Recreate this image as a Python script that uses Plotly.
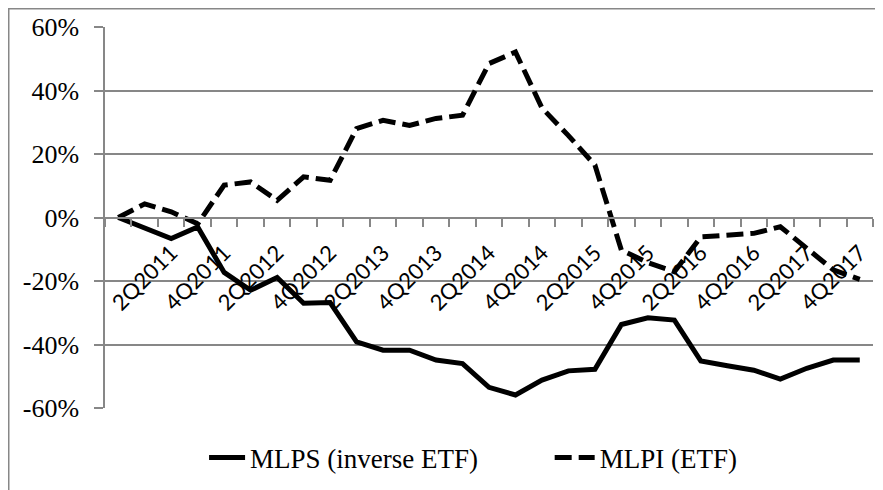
import plotly.graph_objects as go

quarters = ["4Q2010", "1Q2011", "2Q2011", "3Q2011", "4Q2011", "1Q2012", "2Q2012", "3Q2012",
            "4Q2012", "1Q2013", "2Q2013", "3Q2013", "4Q2013", "1Q2014", "2Q2014", "3Q2014",
            "4Q2014", "1Q2015", "2Q2015", "3Q2015", "4Q2015", "1Q2016", "2Q2016", "3Q2016",
            "4Q2016", "1Q2017", "2Q2017", "3Q2017", "4Q2017"]
tick_labels = ["2Q2011", "4Q2011", "2Q2012", "4Q2012", "2Q2013", "4Q2013", "2Q2014",
               "4Q2014", "2Q2015", "4Q2015", "2Q2016", "4Q2016", "2Q2017", "4Q2017"]
mlps = [0, -3.4, -6.6, -3.0, -17.3, -22.9, -18.9, -27.0, -26.8, -39.2, -41.8, -41.8, -44.9,
        -46.0, -53.5, -55.9, -51.2, -48.3, -47.8, -33.7, -31.6, -32.3, -45.2, -46.7, -48.1,
        -50.9, -47.5, -44.9, -44.9]
mlpi = [0, 4.3, 1.8, -2.0, 10.2, 11.2, 5.4, 12.8, 11.7, 28.0, 30.6, 29.0, 31.2, 32.2, 48.5,
        52.1, 34.5, 25.8, 16.5, -10.3, -14.2, -17.1, -6.1, -5.6, -5.0, -2.9, -9.5, -16.5, -19.5]
y_ticks = [-60, -40, -20, 0, 20, 40, 60]

GRID = "#878787"
SERIF = "Liberation Serif"
LEGEND_FONT = dict(family=SERIF, size=27, color="black")

# page body has an 8px margin, so the figure is sized to fill the rest of the window
W, H = 875, 482
ML, MR, MT, MB = 97, 10, 19, 82
PW, PH = W - ML - MR, H - MT - MB

fig = go.Figure()
fig.add_trace(go.Scatter(x=quarters, y=mlps, name="MLPS (inverse ETF)", mode="lines",
                         line=dict(color="black", width=5), legend="legend"))
fig.add_trace(go.Scatter(x=quarters, y=mlpi, name="MLPI (ETF)", mode="lines",
                         line=dict(color="black", width=5, dash="17px,7px"), legend="legend2"))
# invisible helper trace for the boundary tick axis
fig.add_trace(go.Scatter(x=quarters, y=mlps, xaxis="x2", mode="lines", showlegend=False,
                         hoverinfo="skip", line=dict(color="rgba(0,0,0,0)", width=0)))

fig.update_layout(
    width=W, height=H,
    margin=dict(l=ML, r=MR, t=MT, b=MB, autoexpand=False),
    paper_bgcolor="white", plot_bgcolor="white",
    showlegend=True,
    legend=dict(orientation="h", x=0.129, xanchor="left", y=-0.131, yanchor="middle",
                font=LEGEND_FONT, itemwidth=36, bgcolor="rgba(0,0,0,0)"),
    legend2=dict(orientation="h", x=0.579, xanchor="left", y=-0.131, yanchor="middle",
                 font=LEGEND_FONT, itemwidth=40, bgcolor="rgba(0,0,0,0)"),
    xaxis=dict(type="category", categoryorder="array", categoryarray=quarters,
               range=[-0.5, len(quarters) - 0.5], anchor="free", position=0.5,
               tickmode="array", tickvals=tick_labels, ticktext=tick_labels,
               tickangle=-45, ticks="outside", ticklen=13, tickcolor="rgba(0,0,0,0)",
               showline=True, linecolor=GRID, linewidth=1.5, showgrid=False, zeroline=False,
               automargin=False,
               tickfont=dict(family="Lato", size=22, color="black")),
    xaxis2=dict(type="category", categoryorder="array", categoryarray=quarters,
                range=[-0.5, len(quarters) - 0.5], overlaying="x", anchor="free", position=0.5,
                side="bottom", tickson="boundaries", dtick=1, ticks="outside", ticklen=8,
                tickcolor=GRID, tickwidth=1.5, showticklabels=False, showgrid=False,
                showline=False, zeroline=False, automargin=False),
    yaxis=dict(range=[-60, 60], tickmode="array", tickvals=y_ticks,
               ticktext=[f"{v}%" for v in y_ticks], domain=[0, 1],
               showgrid=True, gridcolor=GRID, gridwidth=1.5, zeroline=False,
               showline=True, linecolor=GRID, linewidth=1.5,
               ticks="outside", ticklen=9, tickcolor=GRID, tickwidth=1.5,
               ticklabelstandoff=10, automargin=False,
               tickfont=dict(family=SERIF, size=26, color="black")),
    shapes=[dict(type="rect", xref="paper", yref="paper",
                 x0=(0.75 - ML) / PW, x1=(W + 20 - ML) / PW,
                 y0=-(MB + 20) / PH, y1=(PH + MT - 0.75) / PH,
                 line=dict(color=GRID, width=1.5), layer="below")],
)

fig.write_html("out.html")
